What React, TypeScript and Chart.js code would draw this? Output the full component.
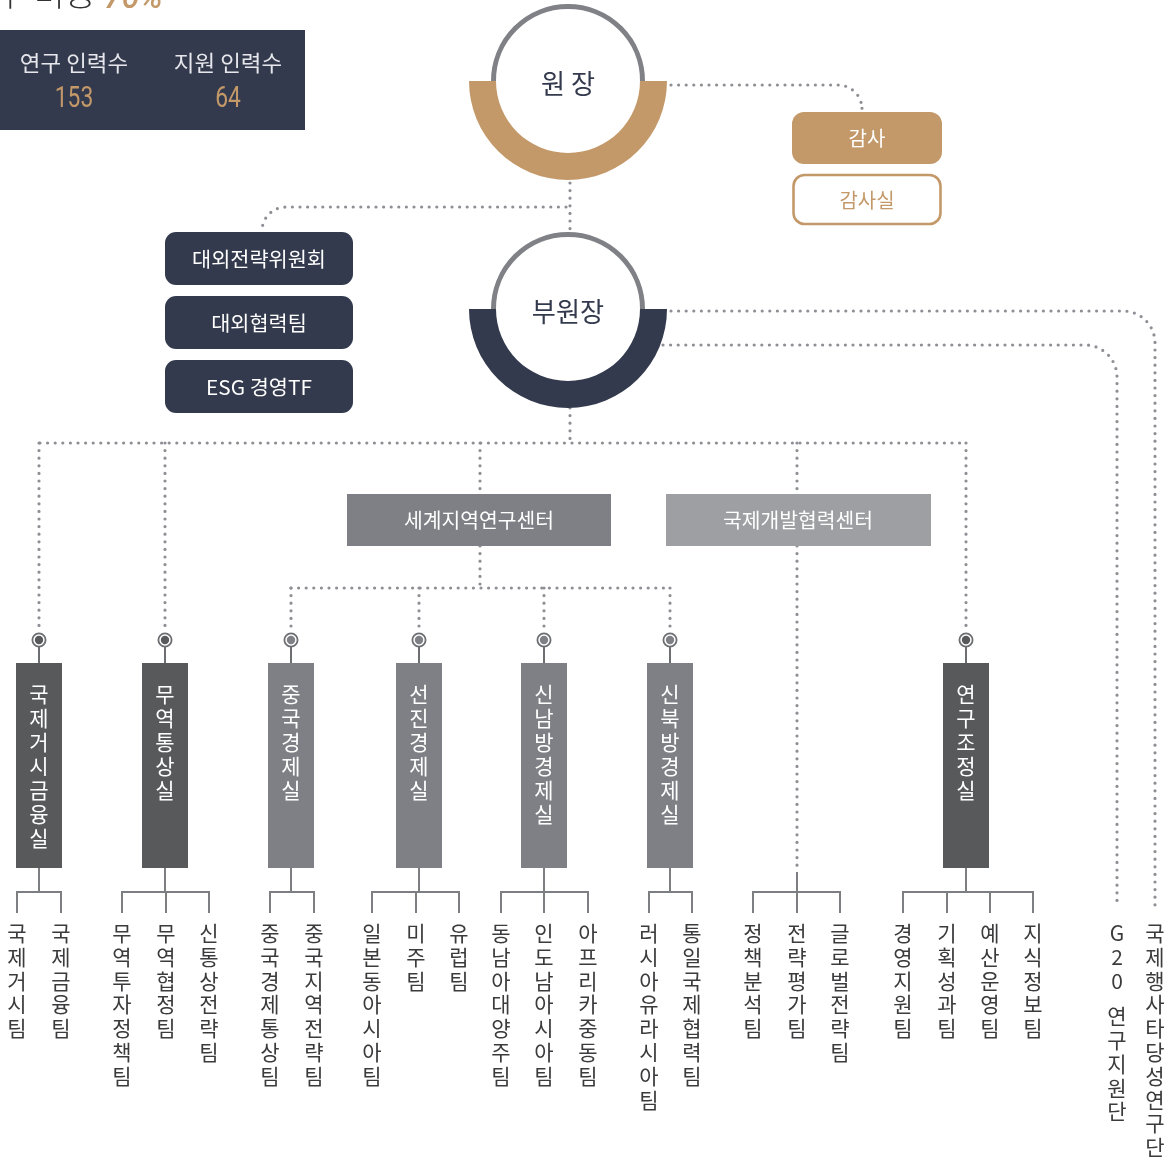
import React, { useEffect, useRef } from "react";
import { Chart, registerables } from "chart.js";

Chart.register(...registerables);

// ---------------- data ----------------
const headlineLabel = "연구 비중";
const headlineValue = "70%";
const staffLabels = ["연구 인력수", "지원 인력수"];
const staffCounts = [153, 64];
const presidentLabel = "원 장";
const auditUnits = ["감사", "감사실"];
const vicePresidentLabel = "부원장";
const vpStaffUnits = ["대외전략위원회", "대외협력팀", "ESG 경영TF"];
const centers = ["세계지역연구센터", "국제개발협력센터"];
const departments = ["국제거시금융실", "무역통상실", "중국경제실", "선진경제실", "신남방경제실", "신북방경제실", "연구조정실"];
const departmentTeams = [
  ["국제거시팀", "국제금융팀"],
  ["무역투자정책팀", "무역협정팀", "신통상전략팀"],
  ["중국경제통상팀", "중국지역전략팀"],
  ["일본동아시아팀", "미주팀", "유럽팀"],
  ["동남아대양주팀", "인도남아시아팀", "아프리카중동팀"],
  ["러시아유라시아팀", "통일국제협력팀"],
  ["경영지원팀", "기획성과팀", "예산운영팀", "지식정보팀"],
];
const centerTeams = ["정책분석팀", "전략평가팀", "글로벌전략팀"];
const specialUnits = ["G20 연구지원단", "국제행사타당성연구단"];

// ---------------- layout / style ----------------
const W = 1168;
const H = 1162;
const NAVY = "#343a4d";
const GOLD = "#c4996a";
const RING = "#808186";
const DOT = "#8e8f94";
const DARK_BOX = "#58595b";
const GRAY_BOX = "#7f8085";
const LIGHT_BOX = "#9e9fa3";
const LINE = "#7d7e82";
const TEAM_TEXT = "#3b3b3d";
const KR = "'Noto Sans CJK KR', 'Noto Sans', sans-serif";

const deptX = [39, 165, 291, 419, 544, 670, 966];
const deptTone = [DARK_BOX, DARK_BOX, GRAY_BOX, GRAY_BOX, GRAY_BOX, GRAY_BOX, DARK_BOX];
const teamX = [
  [17, 61],
  [122, 166, 209],
  [270, 314],
  [372, 416, 459],
  [501, 544, 588],
  [649, 692],
  [903, 947, 990, 1033],
];
const centerTeamX = [753, 797, 840];
const specialX = [1117, 1155];

const orgPlugin = {
  id: "orgChart",
  afterDraw(chart: any) {
    const ctx: CanvasRenderingContext2D = chart.ctx;
    const X = (v: number) => chart.scales.x.getPixelForValue(v);
    const Y = (v: number) => chart.scales.y.getPixelForValue(v);

    const text = (
      s: string,
      x: number,
      y: number,
      font: string,
      color: string,
      align: CanvasTextAlign = "center",
      sx = 0.94,
      baseline: CanvasTextBaseline = "middle"
    ) => {
      ctx.save();
      ctx.translate(X(x), Y(y));
      ctx.scale(sx, 1);
      ctx.font = font;
      ctx.fillStyle = color;
      ctx.textAlign = align;
      ctx.textBaseline = baseline;
      ctx.fillText(s, 0, 0);
      ctx.restore();
    };
    const vtext = (s: string, x: number, y0: number, step: number, font: string, color: string) => {
      let y = y0;
      for (const ch of s) {
        if (ch === " ") {
          y += step * 0.5;
          continue;
        }
        text(ch, x, y, font, color, "center", 1);
        y += step;
      }
    };
    const dotted = (build: () => void) => {
      ctx.save();
      ctx.strokeStyle = DOT;
      ctx.lineWidth = 3.2;
      ctx.lineCap = "round";
      ctx.setLineDash([0, 7.6]);
      ctx.beginPath();
      build();
      ctx.stroke();
      ctx.restore();
    };
    const solid = (pts: number[][], color = LINE, w = 2) => {
      ctx.save();
      ctx.strokeStyle = color;
      ctx.lineWidth = w;
      ctx.beginPath();
      pts.forEach((p, i) => (i === 0 ? ctx.moveTo(X(p[0]), Y(p[1])) : ctx.lineTo(X(p[0]), Y(p[1]))));
      ctx.stroke();
      ctx.restore();
    };
    const rrect = (x: number, y: number, w: number, h: number, r: number, fill: string | null, stroke?: string, lw = 2.5) => {
      ctx.save();
      ctx.beginPath();
      ctx.roundRect(X(x), Y(y), w, h, r);
      if (fill) {
        ctx.fillStyle = fill;
        ctx.fill();
      }
      if (stroke) {
        ctx.strokeStyle = stroke;
        ctx.lineWidth = lw;
        ctx.stroke();
      }
      ctx.restore();
    };

    // headline (cropped at top of the page)
    text(headlineLabel, 96, 6, `300 34px ${KR}`, "#333", "right", 1, "alphabetic");
    text(headlineValue, 104, 8, `italic 500 34px Roboto, sans-serif`, GOLD, "left", 0.95, "alphabetic");

    // staff box
    ctx.fillStyle = NAVY;
    ctx.fillRect(X(0), Y(30), 305, 100);
    const staffCx = [74, 228];
    staffLabels.forEach((l, i) => {
      text(l, staffCx[i], 63, `22px ${KR}`, "#e6e7ec", "center", 1.02);
      text(String(staffCounts[i]), staffCx[i], 99, `30px Roboto, sans-serif`, GOLD, "center", 0.76);
    });

    // ---------- dotted connectors ----------
    dotted(() => {
      ctx.moveTo(X(671), Y(85));
      ctx.arcTo(X(862), Y(85), X(862), Y(107), 24);
      ctx.lineTo(X(862), Y(107));
    });
    dotted(() => {
      ctx.moveTo(X(570), Y(183));
      ctx.lineTo(X(570), Y(234));
    });
    dotted(() => {
      ctx.moveTo(X(566), Y(207));
      ctx.arcTo(X(262), Y(207), X(262), Y(231), 24);
      ctx.lineTo(X(262), Y(231));
    });
    dotted(() => {
      ctx.moveTo(X(671), Y(311));
      ctx.arcTo(X(specialX[1]), Y(311), X(specialX[1]), Y(345), 32);
      ctx.lineTo(X(specialX[1]), Y(908));
    });
    dotted(() => {
      ctx.moveTo(X(663), Y(345));
      ctx.arcTo(X(specialX[0]), Y(345), X(specialX[0]), Y(380), 32);
      ctx.lineTo(X(specialX[0]), Y(908));
    });
    dotted(() => {
      ctx.moveTo(X(570), Y(408));
      ctx.lineTo(X(570), Y(443));
    });
    dotted(() => {
      ctx.moveTo(X(40), Y(443));
      ctx.lineTo(X(966), Y(443));
    });
    [deptX[0], deptX[1], deptX[6]].forEach((x) =>
      dotted(() => {
        ctx.moveTo(X(x), Y(443));
        ctx.lineTo(X(x), Y(632));
      })
    );
    dotted(() => {
      ctx.moveTo(X(480), Y(443));
      ctx.lineTo(X(480), Y(494));
    });
    dotted(() => {
      ctx.moveTo(X(797), Y(443));
      ctx.lineTo(X(797), Y(494));
    });
    dotted(() => {
      ctx.moveTo(X(797), Y(546));
      ctx.lineTo(X(797), Y(872));
    });
    dotted(() => {
      ctx.moveTo(X(480), Y(546));
      ctx.lineTo(X(480), Y(588));
    });
    dotted(() => {
      ctx.moveTo(X(291), Y(588));
      ctx.lineTo(X(670), Y(588));
    });
    [deptX[2], deptX[3], deptX[4], deptX[5]].forEach((x) =>
      dotted(() => {
        ctx.moveTo(X(x), Y(588));
        ctx.lineTo(X(x), Y(632));
      })
    );

    // ---------- circles ----------
    const circleNode = (cy: number, band: string, label: string) => {
      const cx = X(568);
      const y = Y(cy);
      ctx.save();
      ctx.fillStyle = "#fff";
      ctx.beginPath();
      ctx.arc(cx, y, 73, 0, Math.PI * 2);
      ctx.fill();
      ctx.strokeStyle = RING;
      ctx.lineWidth = 5;
      ctx.beginPath();
      ctx.arc(cx, y, 74.5, Math.PI, Math.PI * 2);
      ctx.stroke();
      ctx.fillStyle = band;
      ctx.beginPath();
      ctx.arc(cx, y, 99, 0, Math.PI);
      ctx.arc(cx, y, 72, Math.PI, 0, true);
      ctx.closePath();
      ctx.fill();
      ctx.restore();
      text(label, 568, cy + 3, `27px ${KR}`, NAVY, "center", 0.97);
    };
    circleNode(81, GOLD, presidentLabel);
    circleNode(309, NAVY, vicePresidentLabel);

    // audit boxes
    rrect(792, 112, 150, 52, 12, GOLD);
    text(auditUnits[0], 867, 138, `20px ${KR}`, "#fff", "center", 1.0);
    rrect(793.5, 175, 147, 49, 11, "#fff", GOLD, 2.6);
    text(auditUnits[1], 867, 200, `20px ${KR}`, GOLD, "center", 1.0);

    // vice-president staff boxes
    const vpY = [232, 296, 360];
    vpStaffUnits.forEach((u, i) => {
      rrect(165, vpY[i], 188, 53, 11, NAVY);
      text(u, 259, vpY[i] + 27, `20px ${KR}`, "#fff", "center", 1.04);
    });

    // centers
    ctx.fillStyle = GRAY_BOX;
    ctx.fillRect(X(347), Y(494), 264, 52);
    ctx.fillStyle = LIGHT_BOX;
    ctx.fillRect(X(666), Y(494), 265, 52);
    text(centers[0], 479, 520, `20px ${KR}`, "#fff", "center", 1.02);
    text(centers[1], 798, 520, `20px ${KR}`, "#fff", "center", 1.02);

    // departments
    departments.forEach((d, i) => {
      const x = deptX[i];
      ctx.save();
      ctx.fillStyle = "#fff";
      ctx.strokeStyle = "#6d6e72";
      ctx.lineWidth = 1.8;
      ctx.beginPath();
      ctx.arc(X(x), Y(640), 6.6, 0, Math.PI * 2);
      ctx.fill();
      ctx.stroke();
      ctx.fillStyle = deptTone[i];
      ctx.beginPath();
      ctx.arc(X(x), Y(640), 4.2, 0, Math.PI * 2);
      ctx.fill();
      ctx.restore();
      solid([[x, 647], [x, 663]], "#6d6e72", 2);
      ctx.fillStyle = deptTone[i];
      ctx.fillRect(X(x - 23), Y(663), 46, 205);
      vtext(d, x, 694, 24, `21px ${KR}`, "#fff");
      const tx = teamX[i];
      solid([[x, 868], [x, 892]]);
      solid([[tx[0], 913], [tx[0], 892], [tx[tx.length - 1], 892], [tx[tx.length - 1], 913]]);
      tx.forEach((t, j) => {
        solid([[t, 892], [t, 913]]);
        vtext(departmentTeams[i][j], t, 933, 23.8, `21px ${KR}`, TEAM_TEXT);
      });
    });

    // development center teams
    solid([[797, 872], [797, 892]]);
    solid([[centerTeamX[0], 913], [centerTeamX[0], 892], [centerTeamX[2], 892], [centerTeamX[2], 913]]);
    centerTeams.forEach((t, j) => {
      solid([[centerTeamX[j], 892], [centerTeamX[j], 913]]);
      vtext(t, centerTeamX[j], 933, 23.8, `21px ${KR}`, TEAM_TEXT);
    });

    // special units
    specialUnits.forEach((s, i) => vtext(s, specialX[i], 933, 23.8, `21px ${KR}`, TEAM_TEXT));
  },
};

export default function App() {
  const ref = useRef<HTMLCanvasElement>(null);
  useEffect(() => {
    const canvas = ref.current;
    if (!canvas) return;
    const chart = new Chart(canvas, {
      type: "scatter",
      data: { datasets: [] },
      options: {
        animation: false,
        responsive: false,
        maintainAspectRatio: false,
        layout: { padding: 0 },
        scales: {
          x: { type: "linear", min: 0, max: W, display: false },
          y: { type: "linear", min: 0, max: H, reverse: true, display: false },
        },
        plugins: { legend: { display: false }, tooltip: { enabled: false } },
      },
      plugins: [orgPlugin],
    });
    return () => chart.destroy();
  }, []);
  return (
    <div style={{ position: "absolute", left: 0, top: 0, width: W, height: H, background: "#fff" }}>
      <canvas ref={ref} width={W} height={H} style={{ width: W, height: H, display: "block" }} />
    </div>
  );
}
